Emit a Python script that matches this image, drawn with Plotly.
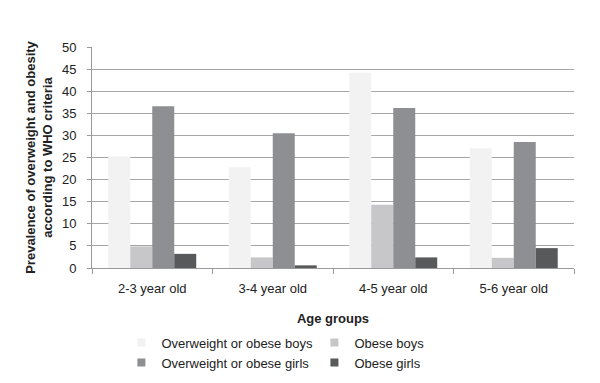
import plotly.graph_objects as go

categories = ["2-3 year old", "3-4 year old", "4-5 year old", "5-6 year old"]
series_names = ["Overweight or obese boys", "Obese boys", "Overweight or obese girls", "Obese girls"]
ow_boys = [25.3, 22.8, 44.2, 27.1]
obese_boys = [4.9, 2.4, 14.3, 2.3]
ow_girls = [36.6, 30.5, 36.2, 28.5]
obese_girls = [3.2, 0.6, 2.4, 4.5]
colors = ["#f2f2f3", "#c7c7c9", "#8e8f92", "#58595b"]
y_ticks = [0, 5, 10, 15, 20, 25, 30, 35, 40, 45, 50]

font = dict(family="Liberation Sans, Arial, sans-serif", size=13, color="#222222")

fig = go.Figure()
for name, vals, col in zip(series_names, [ow_boys, obese_boys, ow_girls, obese_girls], colors):
    fig.add_trace(go.Bar(x=categories, y=vals, name=name, showlegend=False,
                         marker=dict(color=col, line=dict(width=0))))
    # legend entry with a small square swatch
    fig.add_trace(go.Scatter(x=[None], y=[None], mode="markers", name=name,
                             marker=dict(symbol="square", size=8, color=col, line=dict(width=0))))

fig.update_layout(
    width=600, height=383,
    paper_bgcolor="white", plot_bgcolor="white",
    font=font,
    barmode="group", bargap=0.27, bargroupgap=0,
    margin=dict(l=84, r=34, t=39, b=123, autoexpand=False),
    xaxis=dict(
        showline=True, linecolor="#9a9a9a", linewidth=1,
        ticks="outside", tickson="boundaries", ticklen=5, tickcolor="#9a9a9a",
        ticklabelstandoff=8,
        title=dict(text="<b>Age groups</b>", font=dict(size=13), standoff=19),
        tickfont=dict(size=13),
    ),
    yaxis=dict(
        range=[0, 50], tickvals=y_ticks,
        showgrid=True, gridcolor="#a6a6a6", gridwidth=1,
        showline=True, linecolor="#9a9a9a", linewidth=1,
        ticks="outside", ticklen=4, tickcolor="#9a9a9a",
        ticklabelstandoff=8,
        zeroline=False,
        tickfont=dict(size=13),
        title=dict(text="<b>Prevalence of overweight and obesity<br>according to WHO criteria</b>", font=dict(size=13), standoff=6),
    ),
    legend=dict(
        orientation="h", x=0.061, xanchor="left", y=-0.27, yanchor="top",
        entrywidth=148, font=dict(size=13), traceorder="normal",
        tracegroupgap=0, itemwidth=30,
    ),
)

fig.write_html("out.html")
